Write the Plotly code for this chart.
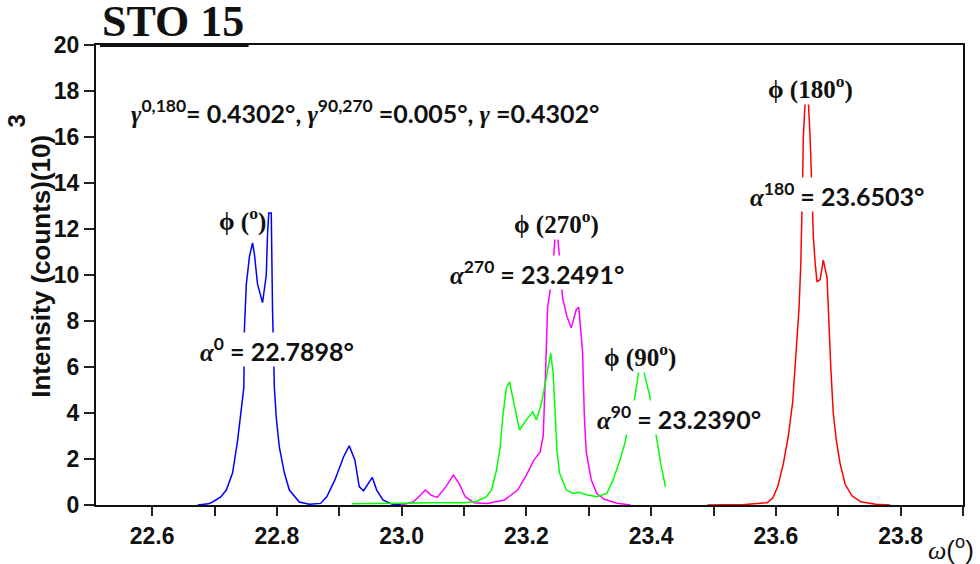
import plotly.graph_objects as go

# ---- data ----
phi0_x = [22.673, 22.690, 22.697, 22.710, 22.719, 22.729, 22.737, 22.743, 22.747, 22.748, 22.751, 22.756,
          22.761, 22.764, 22.769, 22.777, 22.783, 22.785, 22.787, 22.791, 22.793, 22.796, 22.799, 22.804,
          22.812, 22.820, 22.836, 22.852, 22.870, 22.880, 22.893, 22.907, 22.916, 22.925, 22.932, 22.939,
          22.946, 22.953, 22.960, 22.970, 22.984, 23.000]
phi0_y = [0.0, 0.05, 0.13, 0.35, 0.65, 1.4, 2.8, 4.3, 5.1, 7.7, 9.6, 10.8,
          11.4, 10.9, 9.6, 8.8, 10.0, 11.8, 12.7, 12.7, 8.5, 5.1, 3.8, 2.5,
          1.4, 0.65, 0.13, 0.03, 0.07, 0.36, 1.09, 2.1, 2.57, 1.96, 0.8, 0.62,
          0.94, 1.2, 0.65, 0.22, 0.04, 0.0]

phi270_x = [23.000, 23.019, 23.029, 23.038, 23.047, 23.057, 23.071, 23.083, 23.092, 23.102, 23.116, 23.137,
            23.165, 23.186, 23.200, 23.212, 23.222, 23.227, 23.231, 23.234, 23.239, 23.243, 23.246, 23.250,
            23.254, 23.258, 23.265, 23.272, 23.280, 23.284, 23.290, 23.293, 23.296, 23.304, 23.313, 23.325,
            23.345, 23.367]
phi270_y = [0.0, 0.14, 0.4, 0.65, 0.43, 0.33, 0.8, 1.3, 0.94, 0.36, 0.1, 0.07,
            0.22, 0.65, 1.3, 1.95, 2.3, 3.0, 6.0, 8.6, 9.5, 10.5, 11.7, 11.7,
            10.5, 9.0, 8.2, 7.7, 8.5, 8.6, 6.7, 3.8, 2.3, 1.1, 0.5, 0.25,
            0.08, 0.0]

phi90_x = [22.920, 22.940, 23.000, 23.050, 23.100, 23.120, 23.136, 23.144, 23.152, 23.158, 23.162, 23.168,
           23.173, 23.181, 23.189, 23.200, 23.210, 23.216, 23.224, 23.231, 23.239, 23.243, 23.249, 23.253,
           23.264, 23.275, 23.285, 23.296, 23.313, 23.329, 23.339, 23.350, 23.358, 23.366, 23.374, 23.381,
           23.387, 23.398, 23.404, 23.409, 23.416, 23.423]
phi90_y = [0.05, 0.05, 0.08, 0.1, 0.1, 0.15, 0.36, 0.65, 1.5, 2.5, 3.8, 5.1,
           5.35, 4.3, 3.26, 3.7, 4.05, 3.7, 4.4, 5.4, 6.6, 5.7, 2.4, 1.4,
           0.65, 0.5, 0.55, 0.45, 0.36, 0.5, 1.09, 1.96, 2.7, 3.8, 4.7, 5.95,
           5.95, 4.7, 3.7, 2.7, 1.7, 0.8]

phi180_x = [23.490, 23.550, 23.586, 23.595, 23.603, 23.612, 23.620, 23.627, 23.632, 23.637, 23.640, 23.642,
            23.643, 23.644, 23.647, 23.652, 23.655, 23.658, 23.660, 23.663, 23.666, 23.671, 23.676, 23.682,
            23.684, 23.688, 23.692, 23.697, 23.703, 23.711, 23.722, 23.736, 23.760, 23.783]
phi180_y = [0.0, 0.02, 0.1, 0.3, 0.8, 1.8, 3.0, 4.5, 6.5, 8.5, 10.5, 12.3,
            14.3, 16.0, 17.6, 17.6, 15.9, 13.5, 11.7, 10.5, 9.7, 9.8, 10.65, 9.9,
            8.5, 6.0, 4.0, 2.8, 1.8, 0.9, 0.4, 0.14, 0.03, 0.0]

x_ticks = [22.6, 22.8, 23.0, 23.2, 23.4, 23.6, 23.8]
x_minor = [22.7, 22.9, 23.1, 23.3, 23.5, 23.7, 23.9]
y_ticks = [0, 2, 4, 6, 8, 10, 12, 14, 16, 18, 20]

series = [
    ("ϕ 0°", phi0_x, phi0_y, "#0000ff"),
    ("ϕ 270°", phi270_x, phi270_y, "#ff00ff"),
    ("ϕ 90°", phi90_x, phi90_y, "#00ff00"),
    ("ϕ 180°", phi180_x, phi180_y, "#ff0000"),
]

fig = go.Figure()
for name, xs, ys, col in series:
    fig.add_trace(go.Scatter(x=xs, y=ys, mode="lines", name=name,
                             line=dict(color=col, width=1.5)))

SERIF = "Liberation Serif"
SANS = "Lato"
def greek(ch):
    return f"<span style=\"font-family:'{SERIF}'\"><i>{ch}</i></span>"

labels = [
    (22.942, 17.09, f"{greek('γ')}<sup>0,180</sup>= 0.4302°, {greek('γ')}<sup>90,270</sup> =0.005°, {greek('γ')} =0.4302°", SANS, 25),
    (22.745, 12.4, "ϕ (<sup>o</sup>)", SERIF, 25),
    (22.800, 6.74, f"{greek('α')}<sup>0</sup> = 22.7898°", SANS, 25),
    (23.249, 12.3, "ϕ (270<sup>o</sup>)", SERIF, 25),
    (23.217, 10.13, f"{greek('α')}<sup>270</sup> = 23.2491°", SANS, 25),
    (23.382, 6.52, "ϕ (90<sup>o</sup>)", SERIF, 25),
    (23.444, 3.8, f"{greek('α')}<sup>90</sup> = 23.2390°", SANS, 25),
    (23.656, 18.17, "ϕ (180<sup>o</sup>)", SERIF, 25),
    (23.698, 13.48, f"{greek('α')}<sup>180</sup> = 23.6503°", SANS, 25),
]
for x, y, t, fam, sz in labels:
    fig.add_annotation(x=x, y=y, xref="x", yref="y", text=t, showarrow=False,
                       xanchor="center", yanchor="middle", bgcolor="white", borderpad=0,
                       font=dict(family=fam, size=sz, color="#111111", weight="bold"))

# title "STO 15"
fig.add_annotation(x=0.0046, y=1.05, xref="paper", yref="paper", text="STO 15", showarrow=False,
                   xanchor="left", yanchor="middle",
                   font=dict(family=SERIF, size=44, color="#111111", weight="bold"))
fig.add_shape(type="line", xref="paper", yref="paper", x0=0.0046, x1=0.176, y0=1.0, y1=1.0,
              line=dict(color="#111111", width=4))

# y-axis title (exponent drawn as its own raised text, as in the original)
fig.add_annotation(x=-0.0635, y=0.52, xref="paper", yref="paper",
                   text="Intensity (counts)(10)", showarrow=False, textangle=-90,
                   xanchor="center", yanchor="middle",
                   font=dict(family="Liberation Sans", size=26, color="#111111", weight="bold"))
fig.add_annotation(x=-0.0915, y=0.835, xref="paper", yref="paper",
                   text="3", showarrow=False, textangle=-90,
                   xanchor="center", yanchor="middle",
                   font=dict(family="Liberation Sans", size=24, color="#111111", weight="bold"))
# x-axis title
fig.add_annotation(x=0.986, y=-0.0935, xref="paper", yref="paper",
                   text=f"<span style=\"font-family:'{SERIF}'\"><i>ω</i></span>(<sup>o</sup>)",
                   showarrow=False, xanchor="center", yanchor="middle",
                   font=dict(family="Liberation Sans", size=26, color="#111111"))

fig.update_xaxes(range=[22.51, 23.9], tickvals=x_ticks, ticktext=[f"{v:.1f}" for v in x_ticks],
                 ticks="outside", ticklen=9, tickwidth=2, tickcolor="#222222",
                 minor=dict(tickvals=x_minor, ticks="outside",
                            ticklen=9, tickwidth=2, tickcolor="#222222"),
                 showline=True, linewidth=2, linecolor="#111111", mirror=True,
                 showgrid=False, zeroline=False,
                 tickfont=dict(family="Liberation Sans", size=23, color="#111111", weight="bold"))
fig.update_yaxes(range=[0, 20], tickvals=y_ticks, ticks="outside", ticklen=10, tickwidth=2,
                 tickcolor="#222222", showline=True, linewidth=2, linecolor="#111111", mirror=True,
                 showgrid=False, zeroline=False,
                 tickfont=dict(family="Liberation Sans", size=23, color="#111111", weight="bold"))

fig.update_layout(width=980, height=564, margin=dict(l=96, r=17, t=45, b=59),
                  paper_bgcolor="white", plot_bgcolor="white", showlegend=False)

fig.write_html("out.html")
